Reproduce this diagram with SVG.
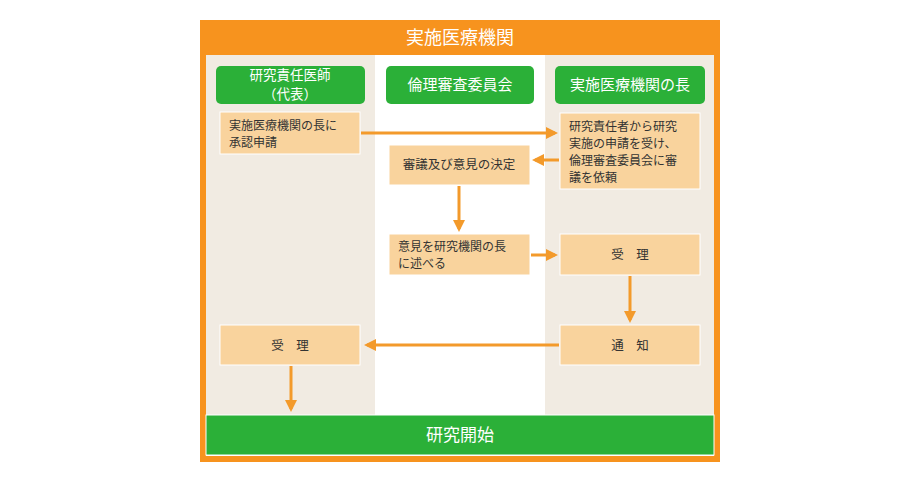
<svg xmlns="http://www.w3.org/2000/svg" width="920" height="485" viewBox="0 0 920 485">
<style>
text{font-family:"Noto Sans CJK JP","Noto Sans",sans-serif}
.hd{fill:#2bb038}
.ht{fill:#fff;font-size:15px;text-anchor:middle}
.h2{fill:#fff;font-size:13.5px;text-anchor:middle}
.bx{fill:#f9d39d;stroke:#fff;stroke-width:1}
.bt{fill:#333;font-size:12px}
.bc{fill:#333;font-size:12.5px;text-anchor:middle}
.ar{stroke:#f39a2b;stroke-width:3;fill:none;marker-end:url(#a)}
</style>
<defs><marker id="a" markerWidth="4" markerHeight="4" refX="3" refY="2" orient="auto"><path d="M0,0L4,2L0,4Z" fill="#f39a2b"/></marker></defs>
<rect width="920" height="485" fill="#fff"/>
<g id="frame">
<rect x="200" y="20" width="520" height="442" fill="#f7931e"/>
<rect x="206" y="55" width="508" height="401" fill="#fff"/>
<rect x="206" y="55" width="169" height="360" fill="#f1ebe2"/>
<rect x="545" y="55" width="169" height="360" fill="#f1ebe2"/>
<text x="460" y="44" class="ht" style="font-size:18px">実施医療機関</text>
</g>
<g id="h1"><rect x="216" y="66" width="149" height="38" rx="5" class="hd"/><text x="290" y="80" class="h2">研究責任医師</text><text x="290" y="99" class="h2">（代表）</text></g>
<g id="h2"><rect x="386" y="66" width="148" height="38" rx="5" class="hd"/><text x="460" y="90" class="ht">倫理審査委員会</text></g>
<g id="h3"><rect x="555" y="66" width="150" height="38" rx="5" class="hd"/><text x="630" y="90" class="ht">実施医療機関の長</text></g>
<g id="n1"><rect x="220" y="112" width="140" height="42" class="bx"/><text x="229" y="130" class="bt">実施医療機関の長に</text><text x="229" y="147" class="bt">承認申請</text></g>
<g id="n2"><rect x="560" y="113" width="140" height="76" class="bx"/><text x="569" y="131" class="bt">研究責任者から研究</text><text x="569" y="148" class="bt">実施の申請を受け、</text><text x="569" y="165" class="bt">倫理審査委員会に審</text><text x="569" y="182" class="bt">議を依頼</text></g>
<g id="n3"><rect x="389" y="145" width="141" height="40" class="bx"/><text x="459" y="169" class="bc">審議及び意見の決定</text></g>
<g id="n4"><rect x="389" y="234" width="141" height="41" class="bx"/><text x="398" y="251" class="bt">意見を研究機関の長</text><text x="398" y="268" class="bt">に述べる</text></g>
<g id="n5"><rect x="560" y="234" width="140" height="41" class="bx"/><text x="630" y="259" class="bc">受　理</text></g>
<g id="n6"><rect x="560" y="325" width="140" height="40" class="bx"/><text x="630" y="350" class="bc">通　知</text></g>
<g id="n7"><rect x="220" y="325" width="140" height="40" class="bx"/><text x="290" y="350" class="bc">受　理</text></g>
<g id="start"><rect x="206" y="415" width="508" height="40" fill="#2bb038" stroke="#fff"/><text x="460" y="441" class="ht" style="font-size:17px">研究開始</text></g>
<g id="connectors">
<path d="M361,133H555" class="ar"/>
<path d="M559,160H535" class="ar"/>
<path d="M459,186V229" class="ar"/>
<path d="M531,255H555" class="ar"/>
<path d="M630,276V320" class="ar"/>
<path d="M559,345H367" class="ar"/>
<path d="M291,366V409" class="ar"/>
</g>
</svg>
